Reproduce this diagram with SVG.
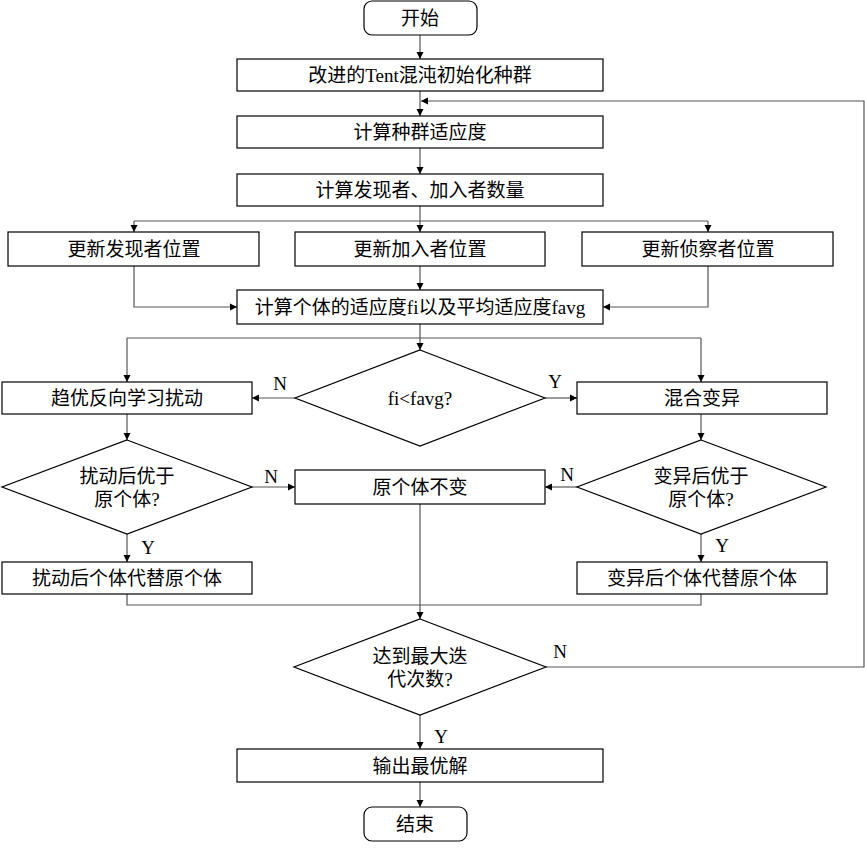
<svg xmlns="http://www.w3.org/2000/svg" width="865" height="848" viewBox="0 0 865 848">
<defs>
<marker id="ah" markerWidth="8" markerHeight="8" refX="7" refY="4" orient="auto" markerUnits="userSpaceOnUse">
<path d="M0,0.5 L7,4 L0,7.5 Z" fill="#000"/>
</marker>
<style>
.box{fill:#fff;stroke:#000;stroke-width:1.2}
.t{font-family:"Liberation Serif","Noto Sans CJK SC",serif;font-size:19px;fill:#000;text-anchor:middle;dominant-baseline:central}
.lb{font-family:"Liberation Serif",serif;font-size:19px;fill:#000;text-anchor:middle;dominant-baseline:central}
.c{fill:none;stroke:#555;stroke-width:1.2}
.ca{fill:none;stroke:#555;stroke-width:1.2;marker-end:url(#ah)}
</style>
</defs>
<rect width="865" height="848" fill="#fff"/>
<g id="connectors">
<path class="ca" d="M420,35 V59"/>
<path class="ca" d="M420,91 V116"/>
<path class="ca" d="M420,148 V174"/>
<path class="c" d="M420,206 V221"/>
<path class="ca" d="M134,221 H708 M134,221 V232"/>
<path class="ca" d="M420,221 V232"/>
<path class="ca" d="M708,221 V232"/>
<path class="ca" d="M420,266 V290"/>
<path class="ca" d="M134,266 V307 H237"/>
<path class="ca" d="M708,266 V307 H603"/>
<path class="c" d="M420,324 V338 M127,338 H701"/>
<path class="ca" d="M420,338 V350"/>
<path class="ca" d="M127,338 V382"/>
<path class="ca" d="M701,338 V382"/>
<path class="ca" d="M295,398 H252"/>
<path class="ca" d="M545,398 H577"/>
<path class="ca" d="M127,414 V440"/>
<path class="ca" d="M701,414 V440"/>
<path class="ca" d="M252,487 H295"/>
<path class="ca" d="M577,487 H545"/>
<path class="ca" d="M127,534 V562"/>
<path class="ca" d="M701,534 V562"/>
<path class="c" d="M127,594 V605 H701 V594"/>
<path class="ca" d="M420,504 V619"/>
<path class="ca" d="M546,667 H864 V101 H421"/>
<path class="ca" d="M420,715 V749"/>
<path class="ca" d="M420,782 V807"/>
</g>
<g id="labels">
<text class="lb" x="280" y="383">N</text>
<text class="lb" x="555" y="381">Y</text>
<text class="lb" x="271" y="476">N</text>
<text class="lb" x="567" y="474">N</text>
<text class="lb" x="148" y="547">Y</text>
<text class="lb" x="722" y="545">Y</text>
<text class="lb" x="560" y="651">N</text>
<text class="lb" x="441" y="736">Y</text>
</g>
<g id="start"><rect class="box" x="364" y="1" width="113" height="34" rx="8"/><text class="t" x="420" y="18">开始</text></g>
<g id="init"><rect class="box" x="237" y="59" width="366" height="32"/><text class="t" x="420" y="75">改进的Tent混沌初始化种群</text></g>
<g id="fitness"><rect class="box" x="237" y="116" width="366" height="32"/><text class="t" x="420" y="132">计算种群适应度</text></g>
<g id="count"><rect class="box" x="237" y="174" width="366" height="32"/><text class="t" x="420" y="190">计算发现者、加入者数量</text></g>
<g id="upd1"><rect class="box" x="8" y="232" width="251" height="34"/><text class="t" x="134" y="249">更新发现者位置</text></g>
<g id="upd2"><rect class="box" x="295" y="232" width="250" height="34"/><text class="t" x="420" y="249">更新加入者位置</text></g>
<g id="upd3"><rect class="box" x="582" y="232" width="251" height="34"/><text class="t" x="708" y="249">更新侦察者位置</text></g>
<g id="calcfi"><rect class="box" x="237" y="290" width="366" height="34"/><text class="t" x="420" y="307">计算个体的适应度fi以及平均适应度favg</text></g>
<g id="d1"><polygon class="box" points="420,350 545,398 420,446 295,398"/><text class="t" x="420" y="398">fi&lt;favg?</text></g>
<g id="obl"><rect class="box" x="2" y="382" width="250" height="32"/><text class="t" x="127" y="398">趋优反向学习扰动</text></g>
<g id="mix"><rect class="box" x="577" y="382" width="250" height="32"/><text class="t" x="702" y="398">混合变异</text></g>
<g id="d2"><polygon class="box" points="127,440 252,487 127,534 2,487"/><text class="t" x="127" y="476">扰动后优于</text><text class="t" x="127" y="499">原个体?</text></g>
<g id="d3"><polygon class="box" points="701,440 826,487 701,534 577,487"/><text class="t" x="701" y="476">变异后优于</text><text class="t" x="701" y="499">原个体?</text></g>
<g id="keep"><rect class="box" x="295" y="470" width="250" height="34"/><text class="t" x="420" y="487">原个体不变</text></g>
<g id="rep1"><rect class="box" x="2" y="562" width="250" height="32"/><text class="t" x="127" y="578">扰动后个体代替原个体</text></g>
<g id="rep2"><rect class="box" x="577" y="562" width="250" height="32"/><text class="t" x="702" y="578">变异后个体代替原个体</text></g>
<g id="d4"><polygon class="box" points="420,619 546,667 420,715 294,667"/><text class="t" x="420" y="656">达到最大迭</text><text class="t" x="420" y="679">代次数?</text></g>
<g id="out"><rect class="box" x="237" y="749" width="366" height="33"/><text class="t" x="420" y="766">输出最优解</text></g>
<g id="end"><rect class="box" x="364" y="807" width="103" height="34" rx="8"/><text class="t" x="415" y="824">结束</text></g>
</svg>
